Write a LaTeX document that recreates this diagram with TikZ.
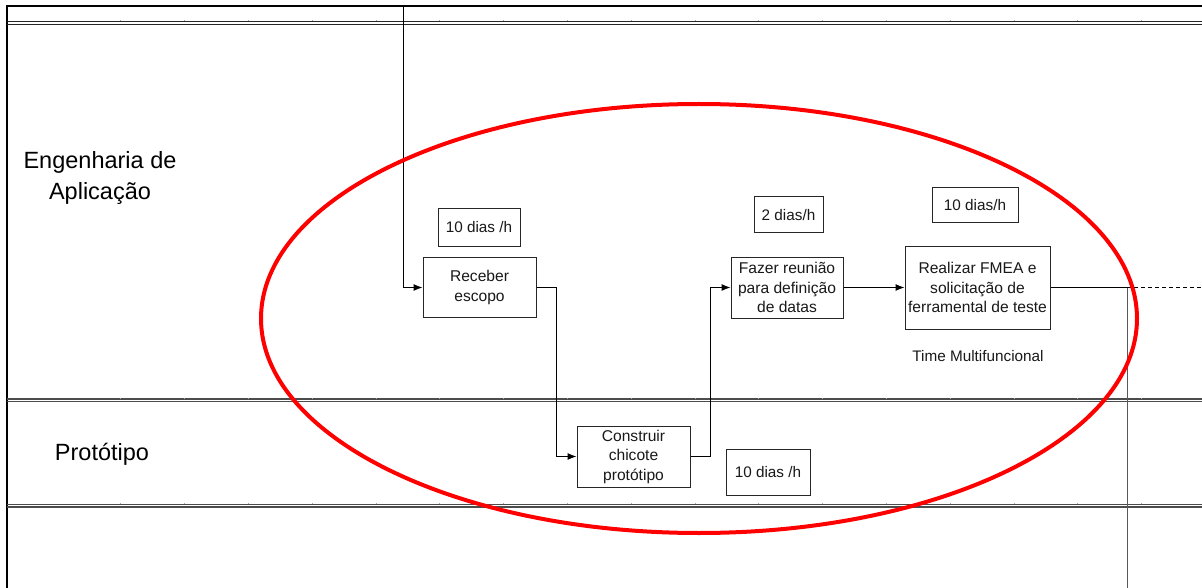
\documentclass[tikz,border=0pt]{standalone}
\usepackage{fontspec}
\setmainfont{Liberation Sans}
\usetikzlibrary{arrows.meta}
\tikzset{
  task/.style={draw=black!85, line width=1pt, fill=white, rectangle, inner sep=0pt, align=center, text=black!90, font=\fontsize{15.6}{19.5}\selectfont},
  tag/.style={draw=black!85, line width=1pt, fill=white, rectangle, inner sep=0pt, align=center, text=black!90, font=\fontsize{15.3}{18}\selectfont},
  flow/.style={line width=1pt, black, -{Latex[length=9pt,width=7pt]}},
  plain/.style={line width=1pt, black},
  lane/.style={line width=1.3pt, black!70},
  lanelabel/.style={align=center, font=\fontsize{23.5}{31}\selectfont, text=black},
  tick/.style={line width=0.6pt, black!35}
}
\begin{document}
\begin{tikzpicture}[x=1pt,y=-1pt]
\useasboundingbox (0,0) rectangle (1202,588);
\fill[white] (0,0) rectangle (1202,588);
% frame
\draw[line width=2.5pt, black] (7,588) -- (7,6) -- (1202,6);
\draw[line width=1.3pt, black!85] (7,21.5) -- (1202,21.5);
\draw[line width=1.3pt, black!85] (7,24.2) -- (1202,24.2);
% lane lines
\foreach \y in {399,401.6,504.3,506.9} { \draw[lane] (7,\y) -- (1202,\y); }
% ticks
\foreach \k in {0,...,16} {
  \pgfmathsetmacro{\tx}{120.6+63.8*\k}
  \draw[tick] (\tx,20) -- (\tx,21.5);
  \draw[tick] (\tx,397.5) -- (\tx,399);
  \draw[tick] (\tx,502.8) -- (\tx,504.3);
}
% lane labels
\node[lanelabel] (lblEng) at (100,177.5) {Engenharia de\\Aplicação};
\node[lanelabel] (lblProt) at (102,454) {Protótipo};
% coordinates
\coordinate (topin) at (403,6);
\coordinate (turn) at (1127,287.5);
\coordinate (bottomout) at (1127,588);
\coordinate (rightout) at (1202,287.5);
% nodes
\node[tag, minimum width=82pt, minimum height=37pt] (t1) at (479,227.5) {10 dias /h};
\node[task, minimum width=113pt, minimum height=60pt] (receber) at (479.5,287.5) {Receber\\escopo};
\node[task, minimum width=113pt, minimum height=61pt] (construir) at (633.5,456.5) {Construir\\chicote\\protótipo};
\node[tag, minimum width=84pt, minimum height=46pt] (t2) at (768,472) {10 dias /h};
\node[tag, minimum width=69pt, minimum height=36pt] (t3) at (788.5,215) {2 dias/h};
\node[task, minimum width=112pt, minimum height=61pt] (fazer) at (787,287.5) {Fazer reunião\\para definição\\de datas};
\node[tag, minimum width=86pt, minimum height=35pt] (t4) at (975,205.5) {10 dias/h};
\node[task, minimum width=145pt, minimum height=83pt] (realizar) at (977.5,287.5) {Realizar FMEA e\\solicitação de\\ferramental de teste};
\node[font=\fontsize{15.3}{18}\selectfont, text=black!90] (time) at (978,356) {Time Multifuncional};
% connectors
\draw[flow] (topin) |- (receber.west);
\draw[flow] (receber.east) -- ++(20,0) |- (construir.west);
\draw[flow] (construir.east) -- ++(20,0) |- (fazer.west);
\draw[flow] (fazer.east) -- (realizar.west);
\draw[plain] (realizar.east) -- (turn);
\draw[line width=1pt, black!65] (turn) -- (bottomout);
\draw[line width=1pt, black, dash pattern=on 4pt off 3pt] (turn) -- (rightout);
% red ellipse
\draw[red, line width=4pt] (699,318.5) ellipse [x radius=438pt, y radius=214.5pt];
\end{tikzpicture}
\end{document}
